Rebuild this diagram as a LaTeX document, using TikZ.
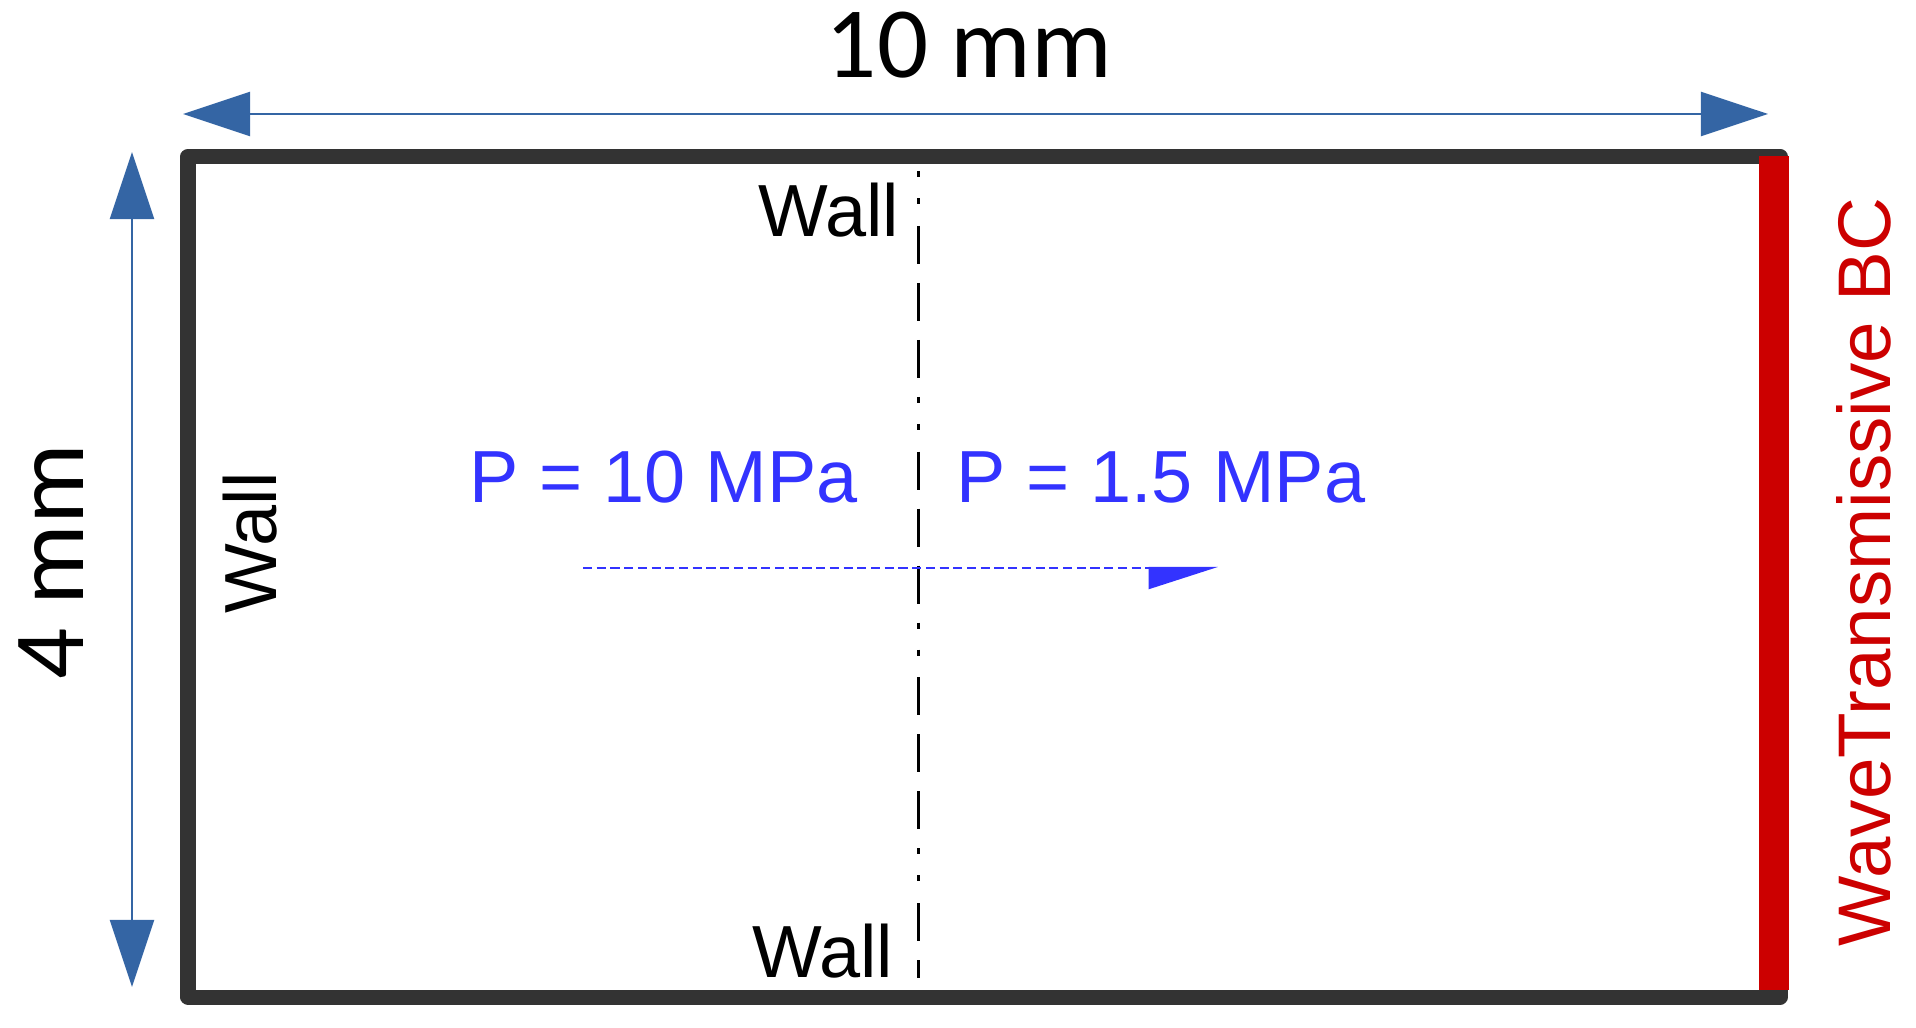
\documentclass[tikz,border=0pt]{standalone}
\usepackage{fontspec}
\setmainfont{Liberation Sans}
\newfontfamily\calfont{Carlito}
\usepackage{xcolor}
\usetikzlibrary{arrows.meta,positioning,calc}
\definecolor{dimblue}{HTML}{3465A4}
\definecolor{boxgray}{HTML}{333333}
\definecolor{bcred}{HTML}{CC0000}
\definecolor{pblue}{HTML}{3333FF}
\tikzset{
    dimarrow/.style={dimblue, line width=0.6pt,
        {Triangle[length=0.67cm,width=0.44cm]}-{Triangle[length=0.67cm,width=0.44cm]}},
    dimlabel/.style={inner sep=0pt, font=\calfont\fontsize{28.7}{34}\selectfont},
    walllabel/.style={inner sep=0pt, font=\fontsize{21}{25}\selectfont},
    presslabel/.style={inner sep=0pt, text=pblue, font=\fontsize{21}{25}\selectfont}
}

\begin{document}
\begin{tikzpicture}[x=0.01cm, y=-0.01cm]
        \useasboundingbox (0,0) rectangle (1916,1028);
        \coordinate (tl) at (188,156.5);
        \coordinate (br) at (1780,997);
        \draw[boxgray, line width=4.27pt, line join=round] (tl) rectangle (br);
        \draw[bcred, line width=8.5pt] (1774,156) -- (1774,990);
        
        \coordinate (cTop) at (918,171);
        \coordinate (cBot) at (918,978);
        \draw[line width=0.85pt, dash pattern=on 1.7pt off 6pt on 1.7pt off 6.2pt on 10.8pt off 5.4pt on 10.8pt off 5.4pt on 10.8pt off 5.4pt] (cTop) -- (cBot);
        
        \coordinate (dimL) at (183,114);
        \coordinate (dimR) at (1768,114);
        \coordinate (dimT) at (132,152);
        \coordinate (dimB) at (132,987);
        \draw[dimarrow] (dimL) -- (dimR);
        \draw[dimarrow] (dimT) -- (dimB);
        \node[dimlabel, anchor=base] (len) at (969,78) {10 mm};
        \node[dimlabel, anchor=base, rotate=90] (hgt) at (83,562) {4 mm};
        
        \node[walllabel, anchor=base east] (wallTop) at (900,237) {Wall};
        \node[walllabel, anchor=base east] (wallBot) at (894,977) {Wall};
        \node[walllabel, anchor=base, rotate=90] (wallLeft) at (276,543) {Wall};
        
        \node[presslabel, anchor=base west] (pHigh) at (469,503) {P = 10 MPa};
        \node[presslabel, anchor=base west] (pLow) at (956,503) {P = 1.5 MPa};
        
        \coordinate (flowS) at (583,568);
        \coordinate (flowE) at (1218,568);
        \draw[pblue, line width=0.6pt, dash pattern=on 2.6pt off 1.3pt,
            -{Triangle[length=0.66cm,width=0.42cm,harpoon,swap]}] (flowS) -- (flowE);
        
        \node[inner sep=0pt, anchor=base, rotate=90, text=bcred, font=\fontsize{21.2}{25}\selectfont] (bc) at (1890,572) {WaveTransmissive BC};
    \end{tikzpicture}
\end{document}
